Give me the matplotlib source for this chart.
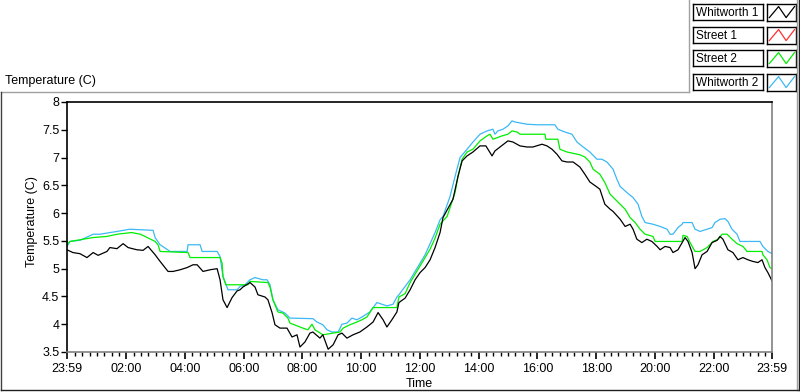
import numpy as np
import matplotlib
matplotlib.use("Agg")
import matplotlib.pyplot as plt
from matplotlib.lines import Line2D

plt.rcParams['font.family'] = ['Liberation Sans', 'DejaVu Sans']

# time axis: hours since 23:59 of the previous day
w1_t = [0.00, 0.20, 0.44, 0.68, 0.89, 1.06, 1.36, 1.46, 1.70, 1.91, 2.08, 2.38, 2.59, 2.76, 3.00,
        3.17, 3.44, 3.61, 3.85, 4.09, 4.29, 4.43, 4.63, 4.87, 5.11, 5.21, 5.31, 5.45, 5.62, 5.79,
        5.89, 5.99, 6.23, 6.40, 6.50, 6.74, 6.84, 6.98, 7.08, 7.25, 7.49, 7.66, 7.83, 7.93, 8.10,
        8.27, 8.37, 8.61, 8.71, 8.89, 9.06, 9.23, 9.36, 9.53, 9.74, 9.97, 10.21, 10.42, 10.59, 10.76,
        10.89, 11.06, 11.23, 11.30, 11.51, 11.68, 11.85, 12.02, 12.19, 12.36, 12.53, 12.70, 12.80, 13.14, 13.31,
        13.45, 13.62, 13.82, 14.06, 14.26, 14.33, 14.47, 14.57, 14.74, 15.01, 15.18, 15.42, 15.66, 15.86, 16.17,
        16.34, 16.51, 16.68, 16.85, 17.02, 17.23, 17.46, 17.63, 17.80, 18.04, 18.14, 18.31, 18.49, 18.59, 18.83,
        19.00, 19.17, 19.27, 19.40, 19.57, 19.74, 19.91, 20.09, 20.19, 20.36, 20.53, 20.63, 20.80, 20.94, 21.04,
        21.14, 21.28, 21.38, 21.48, 21.62, 21.79, 21.96, 22.13, 22.23, 22.33, 22.50, 22.67, 22.84, 23.01, 23.18,
        23.35, 23.52, 23.66, 23.76, 23.86, 24.00]
w1_v = [5.34, 5.29, 5.27, 5.20, 5.29, 5.24, 5.31, 5.38, 5.36, 5.45, 5.38, 5.34, 5.33, 5.40, 5.25,
        5.13, 4.95, 4.95, 4.98, 5.02, 5.07, 5.07, 4.95, 4.98, 5.00, 4.80, 4.44, 4.30, 4.48, 4.60,
        4.62, 4.67, 4.75, 4.67, 4.53, 4.49, 4.44, 4.21, 3.99, 3.93, 3.93, 3.77, 3.81, 3.59, 3.68,
        3.84, 3.86, 3.75, 3.81, 3.55, 3.63, 3.81, 3.84, 3.75, 3.81, 3.86, 3.95, 4.04, 4.21, 4.08,
        3.95, 4.08, 4.22, 4.39, 4.47, 4.62, 4.80, 4.93, 5.02, 5.16, 5.38, 5.65, 5.92, 6.25, 6.66,
        6.94, 7.03, 7.10, 7.21, 7.21, 7.15, 7.03, 7.12, 7.19, 7.30, 7.28, 7.21, 7.19, 7.19, 7.24,
        7.21, 7.15, 7.06, 6.94, 6.92, 6.92, 6.83, 6.70, 6.56, 6.47, 6.43, 6.16, 6.07, 6.03, 5.89,
        5.76, 5.80, 5.71, 5.53, 5.47, 5.53, 5.49, 5.40, 5.34, 5.40, 5.38, 5.29, 5.34, 5.47, 5.56,
        5.49, 5.29, 5.00, 5.07, 5.25, 5.31, 5.47, 5.51, 5.58, 5.53, 5.34, 5.29, 5.16, 5.20, 5.16,
        5.13, 5.11, 5.16, 5.02, 4.93, 4.78]

s2_t = [0.00, 0.10, 0.89, 1.36, 1.70, 2.20, 2.50, 3.00, 3.10, 3.17, 4.12, 4.19, 5.21, 5.28, 5.31,
        5.38, 5.41, 6.16, 6.23, 6.84, 6.91, 7.01, 7.18, 7.35, 7.52, 7.59, 8.03, 8.20, 8.34, 8.44,
        8.71, 9.29, 9.40, 9.63, 9.87, 10.04, 10.21, 10.42, 11.23, 11.30, 11.51, 11.68, 11.85, 12.02, 12.19,
        12.36, 12.53, 12.70, 12.94, 13.21, 13.31, 13.45, 13.62, 13.82, 14.06, 14.30, 14.40, 14.50, 14.81, 15.01,
        15.15, 15.32, 15.42, 16.27, 16.30, 16.71, 16.78, 17.02, 17.46, 17.63, 17.80, 17.91, 18.14, 18.31, 18.49,
        18.66, 18.83, 19.00, 19.17, 19.34, 19.51, 19.68, 19.95, 20.02, 20.94, 20.97, 21.11, 21.21, 21.38, 21.55,
        21.79, 21.99, 22.17, 22.30, 22.47, 22.64, 22.81, 23.01, 23.15, 23.66, 23.69, 23.83, 23.93, 24.00]
s2_v = [5.43, 5.49, 5.56, 5.58, 5.62, 5.65, 5.62, 5.49, 5.43, 5.31, 5.29, 5.20, 5.20, 5.10, 4.86,
        4.75, 4.71, 4.71, 4.77, 4.75, 4.67, 4.44, 4.22, 4.20, 4.11, 4.02, 3.93, 3.90, 4.00, 3.90,
        3.81, 3.86, 3.93, 3.99, 4.04, 4.08, 4.13, 4.30, 4.30, 4.49, 4.55, 4.75, 4.90, 5.05, 5.20,
        5.35, 5.55, 5.80, 5.94, 6.37, 6.66, 6.97, 7.10, 7.15, 7.30, 7.39, 7.42, 7.33, 7.39, 7.42,
        7.48, 7.46, 7.42, 7.42, 7.33, 7.33, 7.15, 7.10, 7.05, 7.01, 6.92, 6.79, 6.70, 6.55, 6.34,
        6.25, 6.16, 6.07, 5.92, 5.83, 5.71, 5.62, 5.58, 5.49, 5.49, 5.60, 5.58, 5.47, 5.31, 5.31,
        5.38, 5.49, 5.53, 5.62, 5.62, 5.53, 5.45, 5.40, 5.31, 5.31, 5.25, 5.16, 5.02, 5.00]

w2_t = [0.00, 0.10, 0.44, 0.89, 1.12, 1.70, 2.14, 2.93, 3.00, 3.17, 3.51, 4.09, 4.12, 4.53, 4.60,
        5.11, 5.21, 5.31, 5.48, 5.79, 5.89, 6.06, 6.23, 6.40, 6.67, 6.81, 6.91, 7.01, 7.18, 7.42,
        7.59, 8.37, 8.51, 8.71, 8.85, 9.02, 9.23, 9.36, 9.53, 9.70, 9.87, 10.04, 10.31, 10.55, 10.72,
        10.89, 11.10, 11.23, 11.30, 11.51, 11.68, 11.85, 12.02, 12.19, 12.36, 12.53, 12.70, 12.80, 13.04, 13.21,
        13.38, 13.62, 13.82, 14.06, 14.30, 14.50, 14.57, 14.67, 14.84, 15.01, 15.15, 15.25, 15.66, 16.00, 16.61,
        16.71, 16.95, 17.19, 17.36, 17.57, 17.80, 18.04, 18.21, 18.38, 18.59, 18.72, 18.83, 19.06, 19.27, 19.44,
        19.57, 19.68, 19.95, 20.19, 20.43, 20.53, 20.63, 20.80, 20.94, 20.97, 21.28, 21.38, 21.55, 21.79, 21.96,
        22.06, 22.23, 22.40, 22.50, 22.64, 22.81, 22.91, 23.59, 23.69, 23.86, 24.00]
w2_v = [5.40, 5.49, 5.51, 5.62, 5.62, 5.67, 5.71, 5.69, 5.56, 5.43, 5.31, 5.31, 5.43, 5.43, 5.31,
        5.31, 5.22, 4.86, 4.62, 4.62, 4.68, 4.71, 4.80, 4.84, 4.80, 4.80, 4.71, 4.44, 4.26, 4.20,
        4.11, 4.10, 4.04, 3.99, 3.90, 3.86, 3.86, 4.00, 4.02, 4.11, 4.08, 4.13, 4.22, 4.39, 4.36,
        4.33, 4.36, 4.49, 4.53, 4.68, 4.80, 4.95, 5.10, 5.25, 5.45, 5.65, 5.88, 5.94, 6.30, 6.66,
        7.00, 7.15, 7.28, 7.42, 7.48, 7.51, 7.42, 7.48, 7.51, 7.57, 7.66, 7.64, 7.60, 7.59, 7.59,
        7.51, 7.46, 7.42, 7.28, 7.19, 7.10, 6.97, 6.97, 6.92, 6.79, 6.61, 6.48, 6.37, 6.28, 6.16,
        5.94, 5.83, 5.80, 5.76, 5.71, 5.62, 5.62, 5.74, 5.80, 5.83, 5.83, 5.71, 5.67, 5.71, 5.74,
        5.83, 5.89, 5.90, 5.85, 5.71, 5.62, 5.49, 5.49, 5.40, 5.31, 5.27]

# Street 1 has no visible data in the chart
s1_t = []
s1_v = []

series_names = ['Whitworth 1', 'Street 1', 'Street 2', 'Whitworth 2']
series_colors = ['#000000', '#ff3030', '#00ee00', '#3cb8f4']

tick_labels = ['23:59', '02:00', '04:00', '06:00', '08:00', '10:00', '12:00',
               '14:00', '16:00', '18:00', '20:00', '22:00', '23:59']
major_ticks = [0.0] + [2 * k + 1 / 60 for k in range(1, 12)] + [24.0]
minor_ticks = [0.25 * k + 1 / 60 for k in range(1, 96)]

W, H = 800, 392
fig = plt.figure(figsize=(W / 100, H / 100), dpi=100)
fig.patch.set_facecolor('white')

ax = fig.add_axes([67 / W, 1 - 352 / H, (772 - 67) / W, (352 - 102) / H])

# draw order: street 1, whitworth 2, street 2, whitworth 1 on top
ax.plot(s1_t, s1_v, color=series_colors[1], lw=0.9)
ax.plot(w2_t, w2_v, color=series_colors[3], lw=0.9)
ax.plot(s2_t, s2_v, color=series_colors[2], lw=0.9)
ax.plot(w1_t, w1_v, color=series_colors[0], lw=0.9)

ax.set_xlim(0, 24)
ax.set_ylim(3.5, 8)
ax.set_yticks(np.arange(3.5, 8.01, 0.5))
ax.set_yticklabels(['3.5', '4', '4.5', '5', '5.5', '6', '6.5', '7', '7.5', '8'])
ax.set_xticks(major_ticks)
ax.set_xticklabels(tick_labels)
ax.set_xticks(minor_ticks, minor=True)
ax.tick_params(axis='y', direction='out', length=4, width=1, pad=1.5, labelsize=9)
ax.tick_params(axis='x', which='major', direction='out', length=5, width=1.2, pad=3, labelsize=9)
ax.tick_params(axis='x', which='minor', direction='out', length=3, width=1)

ax.spines['top'].set_color('black')
ax.spines['left'].set_color('black')
ax.spines['right'].set_color('#808080')
ax.spines['bottom'].set_color('#808080')
for s in ax.spines.values():
    s.set_linewidth(1.2)

ax.text(-0.05, 0.52, 'Temperature (C)', transform=ax.transAxes, rotation=90,
        ha='center', va='center', fontsize=9)
ax.text(0.5, -0.128, 'Time', transform=ax.transAxes, ha='center', va='center', fontsize=9)

fig.text(5 / W, 1 - 81 / H, 'Temperature (C)', ha='left', va='center', fontsize=9)

# panel frame lines (pixel coordinates converted to figure fraction)
def fline(x0, y0, x1, y1, color):
    fig.add_artist(Line2D([x0 / W, x1 / W], [1 - y0 / H, 1 - y1 / H],
                          color=color, lw=1.0, transform=fig.transFigure))

fline(1, 92, 689, 92, '#a0a0a0')
fline(689, 0, 689, 92, '#a0a0a0')
fline(797, 0, 797, 390, '#a0a0a0')
fline(1, 92, 1, 390, '#404040')
fline(1, 390, 799, 390, '#202020')
fline(799, 0, 799, 390, '#202020')

# legend boxes
row_tops = [4, 27, 50, 74]
for name, color, top in zip(series_names, series_colors, row_tops):
    tb = fig.add_axes([693 / W, 1 - (top + 16) / H, 70 / W, 16 / H])
    tb.set_xticks([])
    tb.set_yticks([])
    for s in tb.spines.values():
        s.set_linewidth(1.0)
    tb.text(0.05, 0.45, name, ha='left', va='center', fontsize=8.5, transform=tb.transAxes)

    sw = fig.add_axes([767 / W, 1 - (top + 17) / H, 29 / W, 17 / H])
    sw.set_xticks([])
    sw.set_yticks([])
    for s in sw.spines.values():
        s.set_linewidth(1.0)
    sw.plot([0.08, 0.4, 0.66, 0.95], [0.2, 0.85, 0.2, 0.85], color=color, lw=0.9)
    sw.set_xlim(0, 1)
    sw.set_ylim(0, 1)

fig.savefig('out.png', dpi=100)
